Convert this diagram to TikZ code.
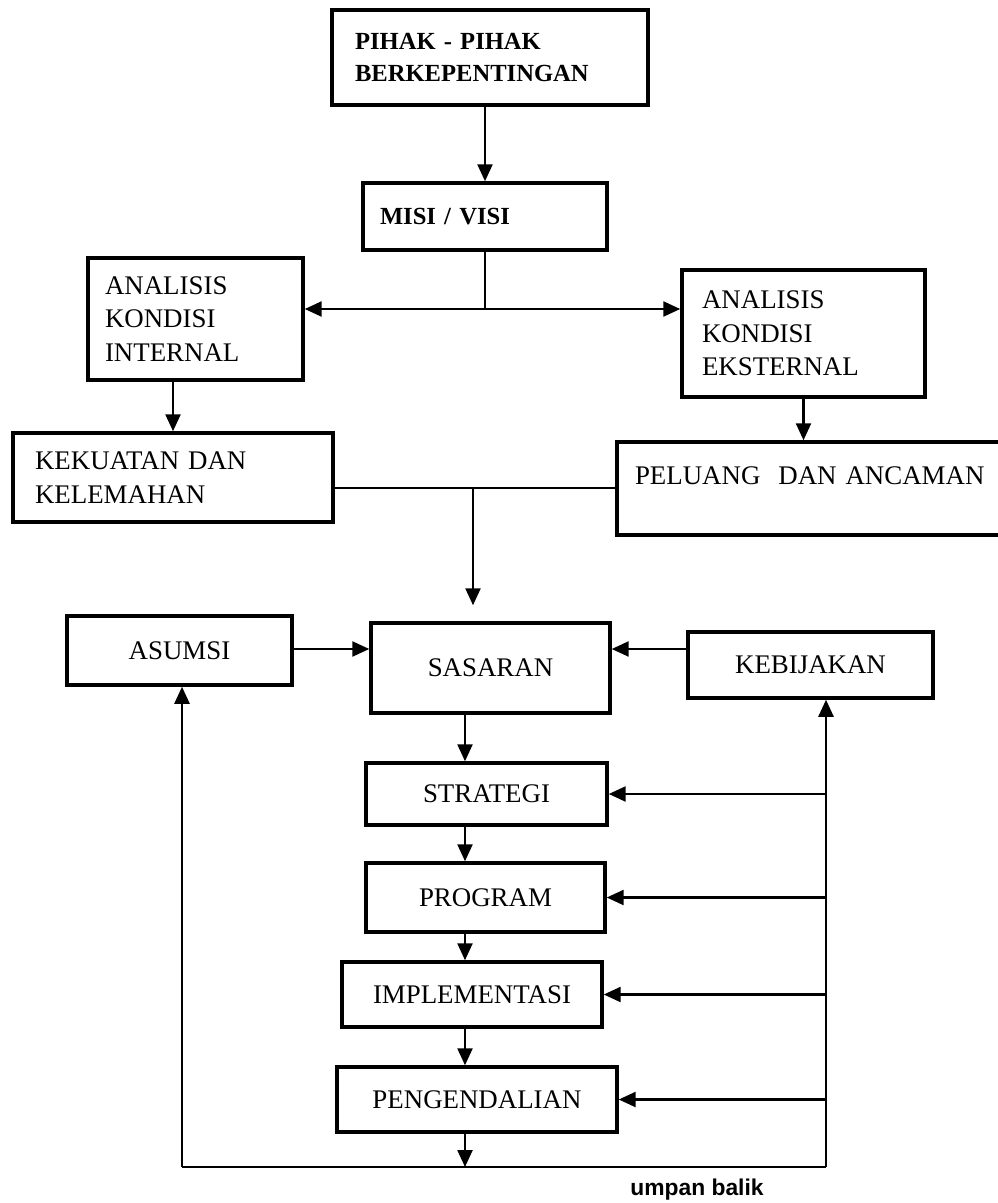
\documentclass[tikz,border=0pt]{standalone}
\usepackage{fontspec}
\setmainfont{Liberation Serif}
\newfontfamily\notefont{Liberation Sans}
\usetikzlibrary{arrows.meta}

\begin{document}
\begin{tikzpicture}[
        x=0.02cm, y=-0.02cm,
        box/.style={draw, line width=2pt, font=\fontsize{15.3}{19}\selectfont, align=center, inner sep=0pt},
        leftbox/.style={box, align=left},
        flow/.style={-{Triangle[length=0.34cm, width=0.3cm]}, line width=1.4pt},
        link/.style={line width=1.4pt}
    ]
    \useasboundingbox (0,0) rectangle (997,1203);

    % Stakeholders and mission
    \node[leftbox, font=\fontsize{14}{18.5}\selectfont\bfseries, text width=5.4cm, inner xsep=0.46cm, minimum height=1.9cm] (pihak) at (490,57.5) {PIHAK - PIHAK\\BERKEPENTINGAN};
    \node[leftbox, font=\fontsize{14}{18.5}\selectfont\bfseries, text width=4.2cm, inner xsep=0.34cm, minimum height=1.34cm] (misi) at (485,216.5) {MISI / VISI};
    \draw[flow] (pihak.south -| misi.north) -- (misi.north);

    % Internal and external analysis
    \node[leftbox, text width=3.62cm, inner xsep=0.34cm, minimum height=2.44cm] (internal) at (195.5,319) {ANALISIS\\KONDISI\\INTERNAL};
    \node[leftbox, text width=4.06cm, inner xsep=0.4cm, minimum height=2.54cm] (eksternal) at (803.5,333.5) {ANALISIS\\KONDISI\\EKSTERNAL};
    \coordinate (split) at (485,309);
    \draw[link] (misi.south) -- (split);
    \draw[flow] (split) -- (internal.east |- split);
    \draw[flow] (split) -- (eksternal.west |- split);

    \node[leftbox, text width=5.52cm, inner xsep=0.44cm, minimum height=1.78cm] (kekuatan) at (173,477.5) {KEKUATAN DAN\\KELEMAHAN};
    \node[leftbox, text width=7.04cm, inner xsep=0.36cm, inner ysep=0pt, text height=0.84cm, text depth=1.02cm] (peluang) at (811,488.5) {PELUANG\ \ DAN ANCAMAN};
    \draw[flow] (internal.south -| kekuatan.north) -- (kekuatan.north);
    \draw[flow] (eksternal.south) -- (eksternal.south |- peluang.north);

    % Goals row
    \node[box, minimum width=4.5cm, minimum height=1.38cm] (asumsi) at (179.5,650.5) {ASUMSI};
    \node[box, minimum width=4.78cm, minimum height=1.8cm] (sasaran) at (490.5,668) {SASARAN};
    \node[box, minimum width=4.9cm, minimum height=1.32cm] (kebijakan) at (810.5,665) {KEBIJAKAN};
    \coordinate (merge) at (473,488);
    \draw[link] (kekuatan.east |- merge) -- (peluang.west |- merge);
    \draw[flow, shorten >=0.32cm] (merge) -- (sasaran.north -| merge);
    \coordinate (inlet) at (0,649);
    \draw[flow] (asumsi.east |- inlet) -- (sasaran.west |- inlet);
    \draw[flow] (kebijakan.west |- inlet) -- (sasaran.east |- inlet);

    % Execution chain
    \node[box, minimum width=4.82cm, minimum height=1.24cm] (strategi) at (486.5,794) {STRATEGI};
    \node[box, minimum width=4.78cm, minimum height=1.38cm] (program) at (485.5,897.5) {PROGRAM};
    \node[box, minimum width=5.2cm, minimum height=1.3cm] (implementasi) at (472,994.5) {IMPLEMENTASI};
    \node[box, minimum width=5.6cm, minimum height=1.3cm] (pengendalian) at (477,1099.5) {PENGENDALIAN};
    \coordinate (spine) at (465,0);
    \draw[flow] (sasaran.south -| spine) -- (strategi.north -| spine);
    \draw[flow] (strategi.south -| spine) -- (program.north -| spine);
    \draw[flow] (program.south -| spine) -- (implementasi.north -| spine);
    \draw[flow] (implementasi.south -| spine) -- (pengendalian.north -| spine);

    % Feedback loop
    \coordinate (rail) at (826,1167);
    \coordinate (leftrail) at (182,1167);
    \draw[flow] (pengendalian.south -| spine) -- (spine |- rail);
    \draw[link] (leftrail) -- (rail);
    \draw[flow] (leftrail) -- (leftrail |- asumsi.south);
    \draw[flow] (rail) -- (rail |- kebijakan.south);
    \foreach \step in {strategi, program, implementasi, pengendalian}
        \draw[flow] (\step.east -| rail) -- (\step.east);
    \node[font=\notefont\bfseries\fontsize{13}{15}\selectfont, anchor=base, inner sep=0pt] (umpan) at (697,1195) {umpan balik};

\end{tikzpicture}
\end{document}
